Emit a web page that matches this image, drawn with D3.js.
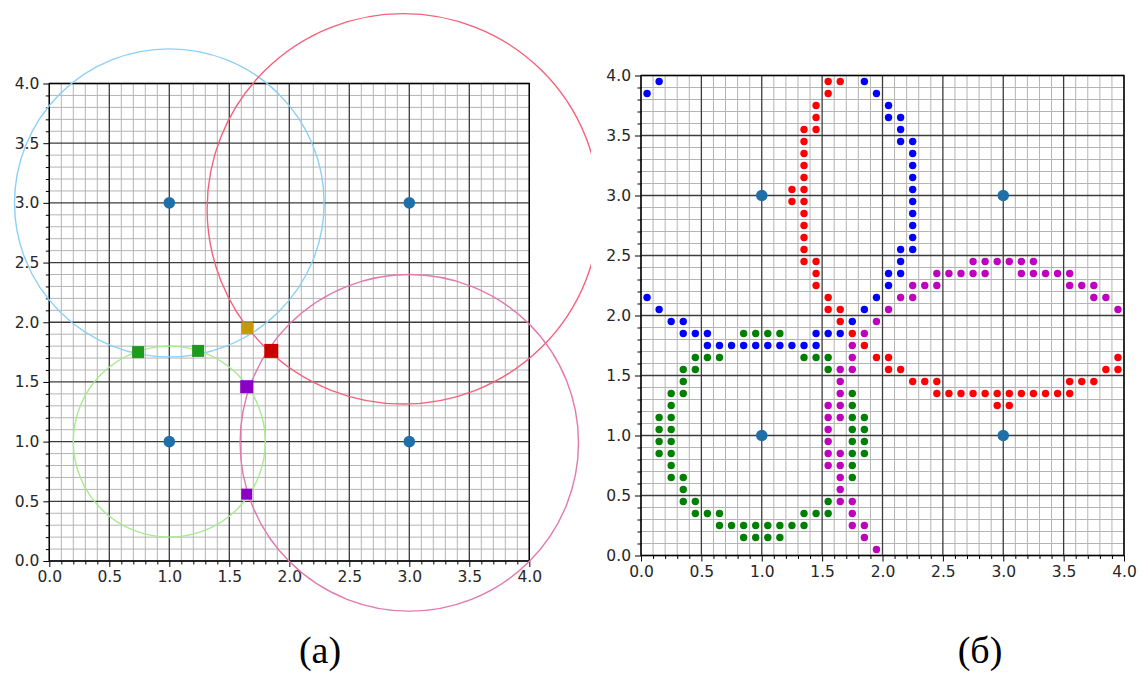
<!DOCTYPE html>
<html><head><meta charset="utf-8">
<script src="https://cdn.jsdelivr.net/npm/d3@7"></script>
<style>body{margin:0;background:#fff;} svg{display:block;}</style>
</head><body>
<svg id="chart" width="1143" height="673"></svg>
<script>
// ---------- data ----------
const majorTicks = [0, 0.5, 1, 1.5, 2, 2.5, 3, 3.5, 4];
const anchorX = [1, 3, 1, 3];
const anchorY = [3, 3, 1, 1];
// panel (a): range circles around anchors
const circleCX = [1, 2.95, 1, 3];
const circleCY = [3, 2.95, 1, 0.99];
const circleR  = [1.29, 1.635, 0.8, 1.41];
// panel (a): intersection points
const squareX = [0.74, 1.24, 1.65, 1.85, 1.645, 1.645];
const squareY = [1.75, 1.76, 1.95, 1.76, 1.46, 0.56];
const squareGroup = ["green", "green", "gold", "red", "purple", "purple"];
// panel (б): sampled curves
const bluePts = [[0.05,3.85],[0.15,3.95],[0.05,2.15],[0.15,2.05],[0.25,1.95],[0.35,1.95],[0.35,1.85],[0.45,1.85],[0.55,1.85],
  [0.55,1.75],[0.65,1.75],[0.75,1.75],[0.85,1.75],[0.95,1.75],[1.05,1.75],[1.15,1.75],[1.25,1.75],[1.35,1.75],[1.45,1.75],
  [1.45,1.85],[1.55,1.85],[1.65,1.85],[1.75,1.95],[1.85,2.05],[1.95,2.15],[2.05,2.25],[2.05,2.35],[2.15,2.35],[2.15,2.45],
  [2.15,2.55],[2.25,2.55],[2.25,2.65],[2.25,2.75],[2.25,2.85],[2.25,2.95],[2.25,3.05],[2.25,3.15],[2.25,3.25],[2.25,3.35],
  [2.25,3.45],[2.15,3.45],[2.15,3.55],[2.15,3.65],[2.05,3.65],[2.05,3.75],[1.95,3.85],[1.85,3.95]];
const redPts = [[1.55,3.95],[1.65,3.95],[1.55,3.85],[1.45,3.75],[1.45,3.65],[1.45,3.55],[1.35,3.55],[1.35,3.45],[1.35,3.35],
  [1.35,3.25],[1.35,3.15],[1.35,3.05],[1.35,2.95],[1.35,2.85],[1.35,2.75],[1.35,2.65],[1.35,2.55],[1.35,2.45],[1.25,3.05],
  [1.25,2.95],[1.45,2.45],[1.45,2.35],[1.45,2.25],[1.55,2.15],[1.55,2.05],[1.65,2.05],[1.65,1.95],[1.75,1.85],[1.85,1.75],
  [1.95,1.65],[2.05,1.65],[2.05,1.55],[2.15,1.55],[2.25,1.45],[2.35,1.45],[2.45,1.45],[2.45,1.35],[2.55,1.35],[2.65,1.35],
  [2.75,1.35],[2.85,1.35],[2.95,1.35],[3.05,1.35],[3.15,1.35],[3.25,1.35],[3.35,1.35],[3.45,1.35],[3.55,1.35],[2.95,1.25],
  [3.05,1.25],[3.55,1.45],[3.65,1.45],[3.75,1.45],[3.85,1.55],[3.95,1.55],[3.95,1.65]];
const greenPts = [[0.85,1.85],[0.95,1.85],[1.05,1.85],[1.15,1.85],[0.45,1.65],[0.55,1.65],[0.65,1.65],[1.35,1.65],[1.45,1.65],
  [1.55,1.65],[0.35,1.55],[0.45,1.55],[1.55,1.55],[0.35,1.45],[0.25,1.35],[0.35,1.35],[1.75,1.35],[0.25,1.25],[1.75,1.25],
  [0.15,1.15],[0.25,1.15],[1.75,1.15],[1.85,1.15],[0.15,1.05],[0.25,1.05],[1.75,1.05],[1.85,1.05],[0.15,0.95],[0.25,0.95],
  [1.75,0.95],[1.85,0.95],[0.15,0.85],[0.25,0.85],[1.75,0.85],[1.85,0.85],[0.25,0.75],[1.75,0.75],[0.25,0.65],[0.35,0.65],
  [1.75,0.65],[0.35,0.55],[0.35,0.45],[0.45,0.45],[1.55,0.45],[0.45,0.35],[0.55,0.35],[0.65,0.35],[1.35,0.35],[1.45,0.35],
  [1.55,0.35],[0.65,0.25],[0.75,0.25],[0.85,0.25],[0.95,0.25],[1.05,0.25],[1.15,0.25],[1.25,0.25],[1.35,0.25],
  [0.85,0.15],[0.95,0.15],[1.05,0.15],[1.15,0.15]];
const magentaPts = [[2.05,2.05],[2.15,2.15],[2.25,2.15],[2.25,2.25],[2.35,2.25],[2.45,2.25],[2.45,2.35],[2.55,2.35],[2.65,2.35],
  [2.75,2.35],[2.85,2.35],[2.75,2.45],[2.85,2.45],[2.95,2.45],[3.05,2.45],[3.15,2.45],[3.25,2.45],[3.15,2.35],[3.25,2.35],
  [3.35,2.35],[3.45,2.35],[3.55,2.35],[3.55,2.25],[3.65,2.25],[3.75,2.25],[3.75,2.15],[3.85,2.15],[3.95,2.05],
  [1.95,1.95],[1.85,1.85],[1.75,1.75],[1.75,1.65],[1.75,1.55],[1.65,1.55],[1.65,1.45],[1.65,1.35],[1.55,1.25],[1.65,1.25],
  [1.55,1.15],[1.65,1.15],[1.55,1.05],[1.55,0.95],[1.55,0.85],[1.65,0.85],[1.55,0.75],[1.65,0.75],[1.65,0.65],[1.65,0.55],
  [1.65,0.45],[1.75,0.45],[1.75,0.35],[1.75,0.25],[1.85,0.25],[1.85,0.15],[1.95,0.05]];
const captions = ["(a)", "(б)"];

// ---------- styles ----------
const circleColors = ["#8dd0f5", "#f7607a", "#a8ea90", "#e07aae"];
const squareColors = {green: "#1e9a1e", gold: "#c49a0a", red: "#c80000", purple: "#8a00c4"};
const squareSizes = [12, 12, 12, 14, 13, 11];
const seriesColors = ["#0000ff", "#ff0000", "#008000", "#bf00bf"];

const svg = d3.select("#chart");
const fmt = d3.format(".1f");
const minorTicks = d3.range(0, 41).map(i => i / 10).filter(v => Math.round(v * 10) % 5 !== 0);

function panel(x0, x1, y0, y1) {
  const x = d3.scaleLinear().domain([0, 4]).range([x0, x1]);
  const y = d3.scaleLinear().domain([0, 4]).range([y0, y1]);
  const g = svg.append("g");
  // minor grid
  g.append("g").selectAll("line.vx").data(minorTicks).join("line")
    .attr("x1", d => x(d)).attr("x2", d => x(d)).attr("y1", y(0)).attr("y2", y(4))
    .attr("stroke", "#b4b4b4").attr("stroke-width", 1);
  g.append("g").selectAll("line.hy").data(minorTicks).join("line")
    .attr("y1", d => y(d)).attr("y2", d => y(d)).attr("x1", x(0)).attr("x2", x(4))
    .attr("stroke", "#b4b4b4").attr("stroke-width", 1);
  // major grid
  g.append("g").selectAll("line").data(majorTicks).join("line")
    .attr("x1", d => x(d)).attr("x2", d => x(d)).attr("y1", y(0)).attr("y2", y(4))
    .attr("stroke", "#3c3c3c").attr("stroke-width", 1.3);
  g.append("g").selectAll("line").data(majorTicks).join("line")
    .attr("y1", d => y(d)).attr("y2", d => y(d)).attr("x1", x(0)).attr("x2", x(4))
    .attr("stroke", "#3c3c3c").attr("stroke-width", 1.3);
  // axes
  const xAxis = d3.axisBottom(x).tickValues(majorTicks).tickFormat(fmt).tickSize(6).tickPadding(4);
  const yAxis = d3.axisLeft(y).tickValues(majorTicks).tickFormat(fmt).tickSize(6).tickPadding(4);
  const xMinor = d3.axisBottom(x).tickValues(minorTicks).tickFormat("").tickSize(3.5);
  const yMinor = d3.axisLeft(y).tickValues(minorTicks).tickFormat("").tickSize(3.5);
  [[xMinor, "b"], [yMinor, "l"], [xAxis, "b"], [yAxis, "l"]].forEach(([ax, side]) => {
    const a = g.append("g").attr("transform", side === "b" ? `translate(0,${y(0)})` : `translate(${x(0)},0)`).call(ax);
    a.select(".domain").remove();
    a.selectAll(".tick line").attr("stroke", "#000").attr("stroke-width", 1);
    a.selectAll("text").attr("font-family", "DejaVu Sans").attr("font-size", 15.5).attr("fill", "#262626");
  });
  // frame
  g.append("rect").attr("x", x(0)).attr("y", y(4)).attr("width", x(4) - x(0)).attr("height", y(0) - y(4))
    .attr("fill", "none").attr("stroke", "#000").attr("stroke-width", 1.3);
  return {x, y, g};
}

// ---------- panel (a) ----------
const A = panel(49.3, 529.3, 561, 83.5);
svg.append("defs").append("clipPath").attr("id", "clipA")
  .append("rect").attr("x", 0).attr("y", 0).attr("width", 591).attr("height", 673);
A.g.append("g").attr("clip-path", "url(#clipA)").selectAll("ellipse").data(circleCX).join("ellipse")
  .attr("cx", (d, i) => A.x(circleCX[i])).attr("cy", (d, i) => A.y(circleCY[i]))
  .attr("rx", (d, i) => A.x(circleR[i]) - A.x(0)).attr("ry", (d, i) => A.y(0) - A.y(circleR[i]))
  .attr("fill", "none").attr("stroke", (d, i) => circleColors[i]).attr("stroke-width", 1.4);
A.g.append("g").selectAll("circle").data(anchorX).join("circle")
  .attr("cx", (d, i) => A.x(anchorX[i])).attr("cy", (d, i) => A.y(anchorY[i])).attr("r", 5.8)
  .attr("fill", "#1f6fa8");
A.g.append("g").selectAll("rect").data(squareX).join("rect")
  .attr("x", (d, i) => A.x(squareX[i]) - squareSizes[i] / 2).attr("y", (d, i) => A.y(squareY[i]) - squareSizes[i] / 2)
  .attr("width", (d, i) => squareSizes[i]).attr("height", (d, i) => squareSizes[i])
  .attr("fill", (d, i) => squareColors[squareGroup[i]]);

// ---------- panel (б) ----------
const B = panel(641, 1124, 555.5, 75.5);
[bluePts, redPts, greenPts, magentaPts].forEach((pts, k) => {
  B.g.append("g").selectAll("circle").data(pts).join("circle")
    .attr("cx", d => B.x(d[0])).attr("cy", d => B.y(d[1])).attr("r", 3.7)
    .attr("fill", seriesColors[k]);
});
B.g.append("g").selectAll("circle").data(anchorX).join("circle")
  .attr("cx", (d, i) => B.x(anchorX[i])).attr("cy", (d, i) => B.y(anchorY[i])).attr("r", 5.8)
  .attr("fill", "#1f6fa8");

// ---------- captions ----------
svg.selectAll("text.cap").data(captions).join("text").attr("class", "cap")
  .attr("x", (d, i) => [320, 980][i]).attr("y", 663)
  .attr("text-anchor", "middle").attr("font-family", "Liberation Serif").attr("font-size", 38)
  .attr("fill", "#000").text(d => d);
</script>
</body></html>
